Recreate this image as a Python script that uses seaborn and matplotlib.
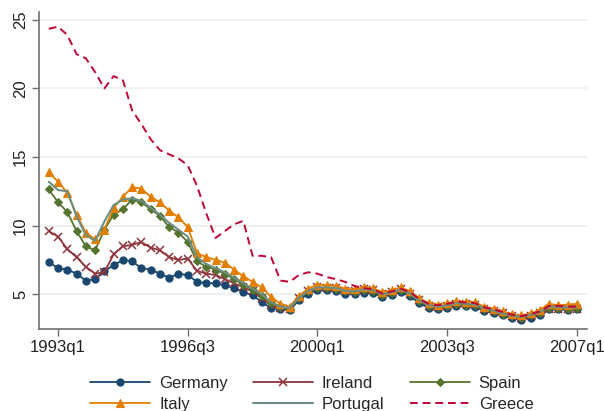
import numpy as np
import pandas as pd
import seaborn as sns
import matplotlib
matplotlib.use("Agg")
import matplotlib.pyplot as plt

# Quarterly long-term interest rates, 1992q4 - 2007q1
quarters = [f"{y}q{q}" for y in range(1992, 2008) for q in range(1, 5)]
quarters = quarters[quarters.index("1992q4"):quarters.index("2007q1") + 1]

germany = [7.35, 6.9, 6.8, 6.5, 6.0, 6.1, 6.7, 7.1, 7.5, 7.4, 6.9, 6.8, 6.5, 6.2, 6.5, 6.4,
           5.9, 5.8, 5.8, 5.65, 5.45, 5.15, 4.95, 4.4, 4.0, 3.9,
           3.85, 4.55, 5.05, 5.3, 5.3, 5.2, 5.0, 5.0, 5.1, 5.1, 4.8, 4.95, 5.15, 4.85, 4.35, 4.0,
           3.9, 4.0, 4.15, 4.15, 4.05, 3.8, 3.6, 3.45, 3.25, 3.15, 3.3, 3.5, 3.9, 3.9, 3.85, 3.9]
ireland = [9.6, 9.2, 8.3, 7.7, 7.0, 6.5, 6.6, 7.9, 8.5, 8.6, 8.8, 8.4, 8.2, 7.7, 7.5, 7.6,
           6.7, 6.5, 6.4, 6.1, 5.8, 5.5, 5.2, 4.7, 4.25, 4.0,
           3.95, 4.7, 5.2, 5.5, 5.45, 5.45, 5.2, 5.2, 5.35, 5.3, 5.0, 5.15, 5.35, 5.05, 4.55, 4.15,
           4.05, 4.15, 4.3, 4.3, 4.2, 3.95, 3.75, 3.6, 3.4, 3.25, 3.4, 3.6, 3.95, 3.95, 3.9, 3.9]
spain = [12.65, 11.7, 11.0, 9.6, 8.5, 8.2, 9.7, 10.8, 11.2, 11.9, 11.7, 11.2, 10.7, 9.9, 9.5, 8.8,
         7.4, 7.0, 6.8, 6.5, 6.1, 5.7, 5.3, 4.9, 4.35, 4.05,
         3.95, 4.7, 5.2, 5.45, 5.45, 5.4, 5.2, 5.15, 5.3, 5.25, 4.95, 5.1, 5.3, 5.0, 4.5, 4.15,
         4.05, 4.15, 4.3, 4.25, 4.2, 3.95, 3.75, 3.55, 3.4, 3.3, 3.45, 3.65, 4.0, 4.0, 3.95, 4.0]
italy = [13.9, 13.2, 12.4, 10.8, 9.5, 9.0, 9.7, 11.3, 12.1, 12.8, 12.7, 12.1, 11.7, 11.1, 10.6, 9.9,
         8.0, 7.7, 7.5, 7.3, 6.8, 6.3, 5.9, 5.5, 4.8, 4.3,
         4.1, 4.9, 5.4, 5.7, 5.65, 5.6, 5.4, 5.35, 5.5, 5.45, 5.15, 5.3, 5.5, 5.2, 4.7, 4.35,
         4.25, 4.35, 4.5, 4.45, 4.4, 4.1, 3.95, 3.75, 3.55, 3.45, 3.6, 3.85, 4.3, 4.2, 4.25, 4.3]
portugal = [13.2, 12.6, 12.5, 10.7, 9.3, 8.9, 10.3, 11.5, 11.9, 12.0, 11.8, 11.3, 10.8, 10.2, 9.7, 9.2,
            7.7, 7.2, 6.9, 6.6, 6.2, 5.8, 5.4, 5.0, 4.4, 4.1,
            4.0, 4.75, 5.25, 5.5, 5.5, 5.45, 5.25, 5.2, 5.35, 5.3, 5.0, 5.15, 5.35, 5.05, 4.55, 4.2,
            4.1, 4.2, 4.35, 4.3, 4.25, 4.0, 3.8, 3.6, 3.45, 3.35, 3.5, 3.7, 4.1, 4.05, 4.05, 4.05]
greece = [24.35, 24.5, 23.9, 22.5, 22.2, 21.2, 20.0, 20.9, 20.6, 18.4, 17.4, 16.3, 15.5, 15.2, 14.9, 14.4,
          12.9, 10.9, 9.1, 9.6, 10.1, 10.35, 7.8, 7.8, 7.7, 6.0,
          5.9, 6.4, 6.6, 6.5, 6.25, 6.1, 5.9, 5.6, 5.45, 5.35, 5.05, 5.2, 5.4, 5.15, 4.65, 4.3,
          4.2, 4.3, 4.45, 4.4, 4.35, 4.05, 3.9, 3.7, 3.5, 3.4, 3.55, 3.75, 4.15, 4.15, 4.1, 4.1]

tick_labels = ["1993q1", "1996q3", "2000q1", "2003q3", "2007q1"]

# quarter number relative to 1993q1
qnum = np.array([(int(q[:4]) - 1993) * 4 + int(q[-1]) - 1 for q in quarters])
tick_pos = [(int(t[:4]) - 1993) * 4 + int(t[-1]) - 1 for t in tick_labels]

series = {
    "Germany": (germany, dict(color="#1a476f", marker="o", markersize=5.2, lw=1.3)),
    "Ireland": (ireland, dict(color="#90353b", marker="x", markersize=6, mew=1.1, lw=1.3)),
    "Spain": (spain, dict(color="#55752f", marker="D", markersize=4.3, lw=1.3)),
    "Italy": (italy, dict(color="#e37e00", marker="^", markersize=5.8, lw=1.3)),
    "Portugal": (portugal, dict(color="#6e8e84", lw=1.5)),
    "Greece": (greece, dict(color="#c10534", ls=(0, (4, 2.5)), lw=1.4)),
}

sns.set_theme(style="white")
plt.rcParams["font.family"] = ["Liberation Sans", "DejaVu Sans"]

fig = plt.figure(figsize=(6.04, 4.11), dpi=100)
ax = fig.add_axes([0.0646, 0.2, 0.9074, 0.771])

for name, (vals, kw) in series.items():
    df = pd.DataFrame({"q": qnum, "rate": vals})
    sns.lineplot(data=df, x="q", y="rate", ax=ax, label=name,
                 markeredgecolor=kw["color"], **kw)

ax.set_xlim(-2.05, 57.1)
ax.set_ylim(2.48, 25.58)
ax.set_xticks(tick_pos)
ax.set_xticklabels(tick_labels)
ax.set_yticks([5, 10, 15, 20, 25])
ax.set_yticklabels(["5", "10", "15", "20", "25"], rotation=90, va="center")
ax.set_xlabel("")
ax.set_ylabel("")

ax.grid(axis="y", color="#eaf2f3", lw=1.5)
ax.grid(axis="x", visible=False)
ax.set_axisbelow(True)
for side in ["top", "right"]:
    ax.spines[side].set_visible(False)
for side in ["left", "bottom"]:
    ax.spines[side].set_color("#707070")
    ax.spines[side].set_linewidth(1.2)
ax.tick_params(axis="both", which="major", length=5, width=1, color="#707070",
               labelsize=12, labelcolor="#222222", direction="out",
               bottom=True, left=True, pad=3)

# legend filled row by row: three entries per row
handles, labels = ax.get_legend_handles_labels()
order = [0, 3, 1, 4, 2, 5]
ax.legend([handles[i] for i in order], [labels[i] for i in order],
          loc="center", bbox_to_anchor=(0.516, 0.042), bbox_transform=fig.transFigure,
          ncol=3, frameon=False, fontsize=12, handlelength=3.6, handletextpad=0.55,
          columnspacing=1.5, labelspacing=0.35, borderpad=0.1)

fig.savefig("out.png", dpi=100)
